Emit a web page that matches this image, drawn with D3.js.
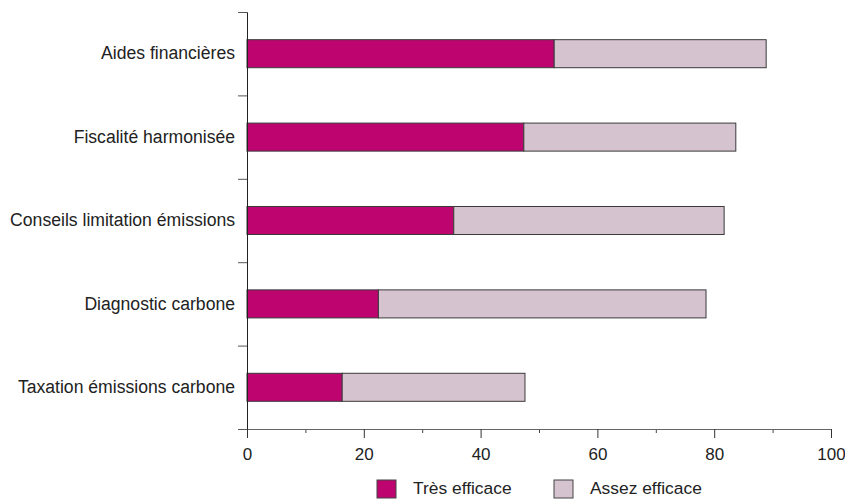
<!DOCTYPE html>
<html><head><meta charset="utf-8">
<script src="https://cdn.jsdelivr.net/npm/d3@7"></script>
<style>
body{margin:0;background:#fff;}
svg{display:block;font-family:"Liberation Sans",Arial,sans-serif;}
</style></head>
<body><svg id="c" width="845" height="499"></svg>
<script>
const categories = ["Aides financières","Fiscalité harmonisée","Conseils limitation émissions","Diagnostic carbone","Taxation émissions carbone"];
const tresEfficace = [52.6, 47.4, 35.4, 22.5, 16.3];
const assezEfficace = [36.3, 36.3, 46.3, 56.1, 31.3];
const seriesNames = ["Très efficace","Assez efficace"];
const seriesColors = ["#BE046F","#D5C3CF"];
const xTicks = [0,20,40,60,80,100];
const xMinorTicks = [10,30,50,70,90];

const svg = d3.select("#c");
const mLeft = 247, mRight = 831, mTop = 12, mBottom = 429;
const x = d3.scaleLinear().domain([0,100]).range([mLeft,mRight]);
const y = d3.scaleBand().domain(categories).range([mTop,mBottom]).paddingInner(0.664).paddingOuter(0.332);
const yb = d3.scaleLinear().domain([0,categories.length]).range([mTop,mBottom]);

const data = categories.map((c,i)=>({cat:c, tres:tresEfficace[i], assez:assezEfficace[i]}));
const stack = d3.stack().keys(["tres","assez"])(data);

stack.forEach((s,si)=>{
  svg.append("g").selectAll("rect").data(s).join("rect")
    .attr("x",d=>x(d[0])).attr("y",d=>y(d.data.cat))
    .attr("width",d=>x(d[1])-x(d[0])).attr("height",y.bandwidth())
    .attr("fill",seriesColors[si]).attr("stroke","#3a3a3a").attr("stroke-width",1);
});

// y axis
const gy = svg.append("g").attr("transform",`translate(${mLeft},0)`)
  .call(d3.axisLeft(yb).tickValues(d3.range(0,categories.length+1)).tickSize(9).tickFormat(""));
gy.select(".domain").attr("stroke","#222");
gy.selectAll(".tick line").attr("stroke","#555");
const gyl = svg.append("g").attr("transform",`translate(${mLeft},0)`)
  .call(d3.axisLeft(y).tickSize(0).tickPadding(12));
gyl.select(".domain").remove();
gyl.selectAll("text").attr("font-size",17.6).attr("fill","#222").attr("font-family","Liberation Sans, Arial, sans-serif");

// x axis
const gxm = svg.append("g").attr("transform",`translate(0,${mBottom})`)
  .call(d3.axisBottom(x).tickValues(xMinorTicks).tickSize(4).tickFormat(""));
gxm.select(".domain").remove();
gxm.selectAll(".tick line").attr("stroke","#444");
const gx = svg.append("g").attr("transform",`translate(0,${mBottom})`)
  .call(d3.axisBottom(x).tickValues(xTicks).tickSize(9).tickSizeOuter(0).tickPadding(10));
gx.select(".domain").attr("stroke","#666");
gx.selectAll(".tick line").attr("stroke","#333");
gx.selectAll("text").attr("font-size",17).attr("fill","#222").attr("font-family","Liberation Sans, Arial, sans-serif");

// legend
const legX = [377, 554];
seriesNames.forEach((n,i)=>{
  svg.append("rect").attr("x",legX[i]).attr("y",480).attr("width",19).attr("height",18)
    .attr("fill",seriesColors[i]).attr("stroke","#444").attr("stroke-width",1);
  svg.append("text").attr("x",legX[i]+36).attr("y",494).attr("font-size",17.4).attr("fill","#222").text(n);
});
</script></body></html>
